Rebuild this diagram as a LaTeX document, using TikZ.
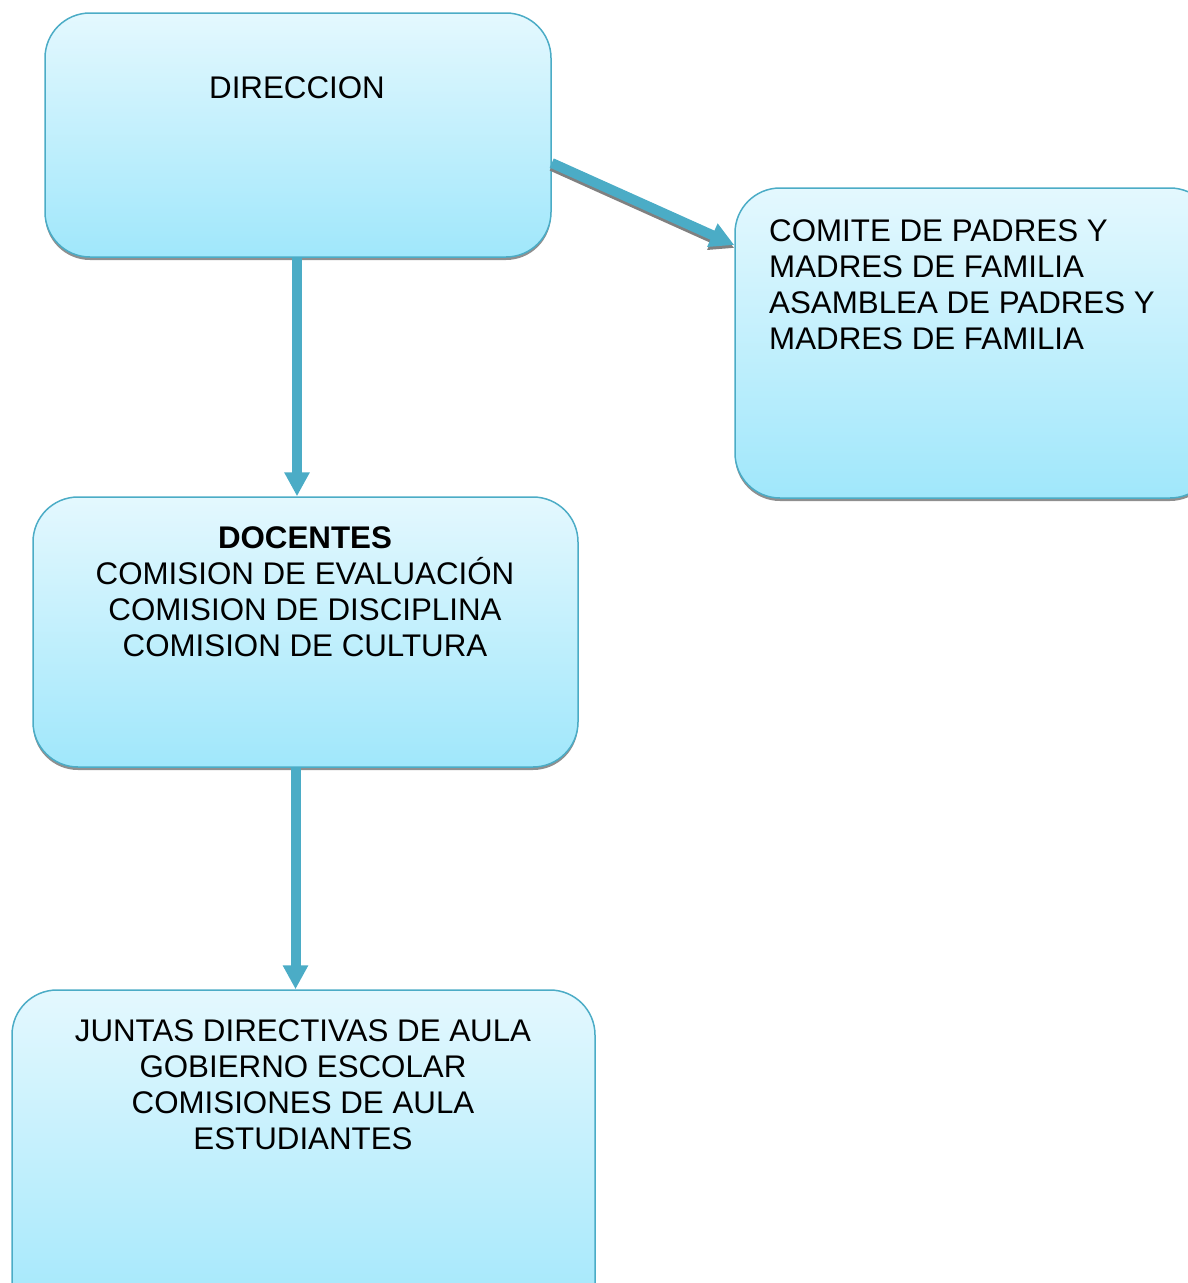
\documentclass[tikz,border=0pt]{standalone}
\usepackage{fontspec}
\setmainfont{Liberation Sans}
\usetikzlibrary{arrows.meta,shadows}
\definecolor{boxline}{HTML}{4BACC6}
\definecolor{boxtop}{HTML}{E4F8FE}
\definecolor{boxbottom}{HTML}{A0E7FB}
\tikzset{
  orgbox/.style={draw=boxline, line width=1.5pt, rounded corners=45pt,
    top color=boxtop, bottom color=boxbottom, inner sep=0pt,
    drop shadow={shadow xshift=0pt, shadow yshift=-3pt, fill=black!55, opacity=0.8}},
  orgtext/.style={inner sep=0pt, font=\fontsize{31.3}{36}\selectfont},
  orgarrow/.style={draw=boxline, line width=10pt, -{Triangle[width=24pt,length=24pt]}},
  orgshadow/.style={draw=black!50, line width=10pt, -{Triangle[width=24pt,length=24pt]}}
}
\begin{document}
\begin{tikzpicture}[x=1pt,y=-1pt]
  \useasboundingbox (0,0) rectangle (1188,1283);
  \clip (0,0) rectangle (1188,1283);

  % Kaesten
  \node[orgbox, minimum width=506pt, minimum height=244pt] (direccion) at (298,135) {};
  \node[orgbox, minimum width=480pt, minimum height=310pt] (comite) at (975,343) {};
  \node[orgbox, minimum width=545pt, minimum height=270pt] (docentes) at (305.5,632) {};
  \node[orgbox, minimum width=583pt, minimum height=340pt] (estudiantes) at (303.5,1160) {};

  % Texte
  \node[orgtext, anchor=north] (tdireccion) at (297,76) {DIRECCION};
  \node[orgtext, anchor=north west, align=left] (tcomite) at (769,219)
    {COMITE DE PADRES Y\\MADRES DE FAMILIA\\ASAMBLEA DE PADRES Y\\MADRES DE FAMILIA};
  \node[orgtext, anchor=north, align=center] (tdocentes) at (305,526)
    {\textbf{DOCENTES}\\COMISION DE EVALUACIÓN\\COMISION DE DISCIPLINA\\COMISION DE CULTURA};
  \node[orgtext, anchor=north, align=center] (testudiantes) at (303,1019)
    {JUNTAS DIRECTIVAS DE AULA\\GOBIERNO ESCOLAR\\COMISIONES DE AULA\\ESTUDIANTES};

  % Pfeile
  \coordinate (a1) at ([xshift=-1pt]direccion.south);
  \coordinate (a2) at ([xshift=-10pt]docentes.south);
  \coordinate (a3) at ([yshift=-28pt]direccion.east);
  \coordinate (a4) at ([yshift=98pt]comite.west);
  \draw[orgshadow] ([yshift=-3pt]a3) -- ([yshift=-3pt]a4);
  \draw[orgarrow] (a3) -- (a4);
  \draw[orgarrow] (a1) -- (a1 |- docentes.north);
  \draw[orgarrow] (a2) -- (a2 |- estudiantes.north);
\end{tikzpicture}
\end{document}
